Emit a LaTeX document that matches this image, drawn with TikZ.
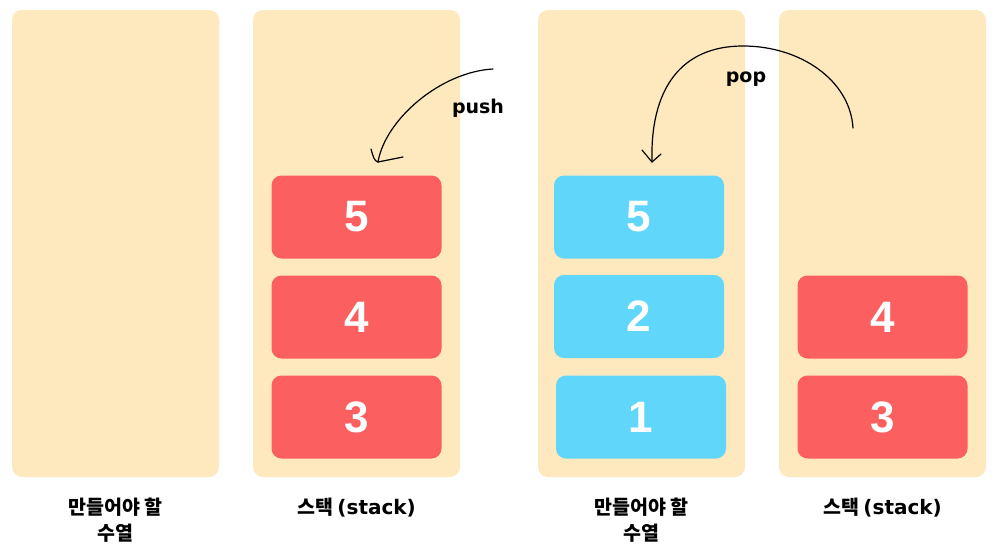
\documentclass[tikz,border=0pt]{standalone}
\usepackage{fontspec}
\setmainfont{Liberation Sans}
\newfontfamily\kr{Noto Sans CJK KR}[BoldFont={Noto Sans CJK KR Black}]
\newfontfamily\dvs{DejaVu Sans}
\definecolor{cream}{HTML}{FEE8BD}
\definecolor{redbox}{HTML}{FB5F60}
\definecolor{bluebox}{HTML}{5FD6FA}
\newcommand{\latbold}[1]{{\dvs\fontsize{20}{26}\selectfont\bfseries #1}}
\begin{document}
\begin{tikzpicture}[x=1pt,y=-1pt,
  column/.style={fill=cream,rounded corners=10pt,draw=none,minimum width=207pt,minimum height=467pt,inner sep=0pt},
  redcard/.style={fill=redbox,rounded corners=10pt,draw=none,minimum width=170pt,minimum height=83pt,inner sep=0pt,text=white,font=\fontsize{44}{44}\bfseries\selectfont},
  bluecard/.style={redcard,fill=bluebox},
  caption/.style={font=\kr\fontsize{19.5}{26}\bfseries\selectfont,align=center,inner sep=0pt},
  oplabel/.style={font=\dvs\fontsize{19}{24}\bfseries\selectfont,inner sep=0pt},
  handline/.style={line width=1.2pt,line cap=round,line join=round}]
\useasboundingbox (0,0) rectangle (1001,557);
% columns
\node[column] (c1) at (115.5,243.5) {};
\node[column] (c2) at (356.5,243.5) {};
\node[column] (c3) at (641.5,243.5) {};
\node[column] (c4) at (882.5,243.5) {};
% stack cards
\node[redcard] (s5) at (356.5,217) {5};
\node[redcard] (s4) at (356.5,317) {4};
\node[redcard] (s3) at (356.5,417) {3};
% sequence cards
\node[bluecard] (q5) at (639,217) {5};
\node[bluecard] (q2) at (639,316.5) {2};
\node[bluecard] (q1) at (641,417) {1};
% stack cards right
\node[redcard] (t4) at (882.5,317) {4};
\node[redcard] (t3) at (882.5,417) {3};
% captions
\node[caption] (l1) at (115.5,520) {만들어야 할\\수열};
\node[caption] (l2) at (356.5,508) {스택 \latbold{(stack)}};
\node[caption] (l3) at (641.5,520) {만들어야 할\\수열};
\node[caption] (l4) at (882.5,508) {스택 \latbold{(stack)}};
% push arrow
\coordinate (pushstart) at (493,69);
\coordinate (pushtip) at (378,162);
\coordinate (pusharmA) at (371,149);
\coordinate (pusharmB) at (403,157);
\draw[handline] (pushstart) .. controls (440,72) and (385,120) .. (pushtip);
\draw[handline] (pusharmA) .. controls (373,156) and (374,161) .. (pushtip) -- (pusharmB);
\node[oplabel] (push) at (478,108) {push};
% pop arrow
\coordinate (popstart) at (853,128);
\coordinate (poptop) at (743,46);
\coordinate (poptip) at (652,162);
\coordinate (poparmA) at (642,150);
\coordinate (poparmB) at (661,154);
\draw[handline] (popstart) .. controls (850,80) and (800,46) .. (poptop)
  .. controls (680,46) and (650,90) .. (poptip);
\draw[handline] (poparmA) -- (poptip) -- (poparmB);
\node[oplabel] (pop) at (746,79) {pop};
\end{tikzpicture}
\end{document}
